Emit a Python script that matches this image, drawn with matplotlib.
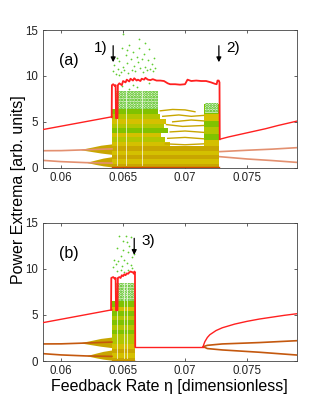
import matplotlib
matplotlib.use('Agg')
import matplotlib.pyplot as plt

plt.rcParams['font.family'] = ['Liberation Sans', 'DejaVu Sans']
plt.rcParams['hatch.linewidth'] = 1.3

# colours
RED = '#ff2020'
SALMON = '#e39070'
BROWN = '#c4580e'
OLIVE = '#c8a600'
YELLOW = '#d4c000'
YGREEN = '#b2c600'
GREEN = '#80c200'
stripe_cols = {'o': OLIVE, 'y': YELLOW, 'g': YGREEN, 'G': GREEN}

# axis ticks
xticks = [0.06, 0.065, 0.07, 0.075]
xticklabels = ['0.06', '0.065', '0.07', '0.075']
yticks = [0, 5, 10, 15]

# ---- branches common to both panels (left of the chaotic window)
left_red_x = [0.0585, 0.0641]
left_red_y = [4.15, 5.55]
left_up_x = [0.0585, 0.0600, 0.0620, 0.0641]
left_up_y = [1.85, 1.86, 1.95, 2.05]
left_lo_x = [0.0585, 0.0600, 0.0620, 0.0641]
left_lo_y = [0.80, 0.66, 0.55, 0.50]
# period doubling wedges
wedge1_x = [0.0616, 0.0625, 0.0632, 0.0641]
wedge1_lo = [1.95, 1.75, 1.60, 1.45]
wedge1_hi = [2.00, 2.25, 2.45, 2.60]
wedge2_x = [0.0621, 0.0628, 0.0634, 0.0641]
wedge2_lo = [0.55, 0.35, 0.20, 0.08]
wedge2_hi = [0.60, 0.85, 1.05, 1.20]

# ---- panel (a)
a_top_x = [0.06408, 0.06410, 0.0642, 0.06435, 0.06440, 0.06443, 0.06455, 0.06458,
           0.0647, 0.0649, 0.0650, 0.0652, 0.0653, 0.0655, 0.0656, 0.0658, 0.0659,
           0.0661, 0.0662, 0.0664, 0.0665, 0.0667, 0.0668, 0.0670, 0.0672, 0.0674,
           0.0677, 0.0680, 0.0683, 0.0686, 0.0688, 0.0692, 0.0696, 0.0700, 0.0702,
           0.0705, 0.0709, 0.0713, 0.0717, 0.0721, 0.0724, 0.07255, 0.07262,
           0.07272, 0.07278, 0.07280]
a_top_y = [5.5, 9.0, 9.1, 8.9, 9.0, 5.4, 5.4, 9.0,
           9.2, 9.0, 9.45, 9.3, 9.6, 9.4, 9.7, 9.5, 9.75,
           9.5, 9.6, 9.45, 9.7, 9.6, 9.8, 9.6, 9.55, 9.65,
           9.5, 9.5, 9.45, 9.2, 9.1, 9.1, 9.05, 9.1, 9.6,
           9.45, 9.5, 9.45, 9.45, 9.3, 9.15, 9.1, 9.5,
           9.5, 9.3, 3.1]
a_right_x = [0.07280, 0.0735, 0.0745, 0.0755, 0.0765, 0.0775, 0.0790]
a_right_y = [3.10, 3.35, 3.65, 3.95, 4.25, 4.60, 5.07]
a_rup_x = [0.07280, 0.0750, 0.0770, 0.0790]
a_rup_y = [1.75, 1.90, 2.02, 2.18]
a_rlo_x = [0.07280, 0.0750, 0.0770, 0.0790]
a_rlo_y = [1.20, 0.95, 0.78, 0.58]

a_chaos = [0.0641, 0.07275]
a_bot_lo = [0.0, 0.35, 0.90, 1.35, 1.85]
a_bot_hi = [0.35, 0.90, 1.35, 1.85, 2.35]
a_bot_c = ['o', 'y', 'o', 'y', 'o']
a_left_lo = [2.35, 2.80, 3.30, 3.80, 4.30, 4.80, 5.30, 5.80]
a_left_hi = [2.80, 3.30, 3.80, 4.30, 4.80, 5.30, 5.80, 6.45]
a_left_end = [0.0688, 0.0684, 0.0681, 0.0686, 0.0683, 0.0685, 0.0680, 0.0678]
a_left_c = ['y', 'g', 'y', 'G', 'g', 'y', 'g', 'G']
a_rcol = [0.0715, 0.07272]
a_rcol_lo = [2.35, 3.00, 3.70, 4.40, 5.10, 5.80]
a_rcol_hi = [3.00, 3.70, 4.40, 5.10, 5.80, 6.90]
a_rcol_c = ['y', 'G', 'g', 'G', 'y', 'G']
a_mid_lines = [
    ([0.0680, 0.0690, 0.0700, 0.0708], [6.20, 6.35, 6.30, 6.10]),
    ([0.0682, 0.0695, 0.0705, 0.0715], [5.60, 5.75, 5.60, 5.70]),
    ([0.0690, 0.0705, 0.0715], [5.00, 5.20, 5.10]),
    ([0.0685, 0.0698, 0.0715], [4.70, 4.50, 4.60]),
    ([0.0688, 0.0700, 0.0715], [3.90, 4.00, 3.85]),
    ([0.0686, 0.0700, 0.0715], [3.20, 3.30, 3.15]),
    ([0.0684, 0.0700, 0.0715], [2.60, 2.50, 2.60]),
]
a_gaps = [0.06448, 0.06525, 0.0665]
a_dense = [(0.0644, 0.0678, 6.45, 8.4), (0.0716, 0.07265, 6.0, 7.0)]
a_dots_x = [0.0642, 0.0643, 0.0644, 0.0645, 0.0646, 0.0647, 0.0648, 0.0649, 0.0650,
            0.0650, 0.0651, 0.0652, 0.0653, 0.0654, 0.0655, 0.0656, 0.0657, 0.0658,
            0.0659, 0.0660, 0.0661, 0.0662, 0.0663, 0.0664, 0.0665, 0.0666, 0.0667,
            0.0668, 0.0669, 0.0670, 0.0671, 0.0672, 0.0673, 0.0674, 0.0675, 0.0676,
            0.0663, 0.0653, 0.0647, 0.0668, 0.0658, 0.0661, 0.0671, 0.0655, 0.0649]
a_dots_y = [10.5, 11.2, 10.2, 12.0, 10.8, 11.6, 10.4, 13.1, 11.0,
            14.6, 10.6, 12.3, 11.4, 10.3, 13.4, 11.9, 10.7, 12.6,
            11.1, 10.5, 12.1, 11.5, 13.0, 10.9, 11.8, 10.4, 12.4,
            11.0, 10.6, 11.7, 12.9, 10.8, 11.3, 10.5, 12.0, 10.9,
            14.0, 12.8, 10.1, 13.6, 9.0, 8.8, 9.2, 8.6, 8.9]

# ---- panel (b)
b_top_x = [0.06403, 0.06405, 0.0642, 0.06435, 0.06440, 0.06443, 0.06455, 0.06458,
           0.0647, 0.0648, 0.0649, 0.0650, 0.0651, 0.0652, 0.0653, 0.0654, 0.0655,
           0.0656, 0.0657, 0.0658, 0.06588, 0.06592, 0.06596, 0.06598]
b_top_y = [5.55, 9.0, 9.1, 8.9, 9.0, 5.5, 5.5, 9.0,
           9.1, 9.0, 9.3, 9.2, 9.4, 9.3, 9.5, 9.45, 9.6,
           9.7, 9.65, 9.6, 9.45, 9.7, 9.6, 1.55]
b_flat_x = [0.06598, 0.07147]
b_flat_y = [1.55, 1.55]
b_right_x = [0.07147, 0.0715, 0.0716, 0.0718, 0.0720, 0.0725, 0.0730, 0.0740,
             0.0750, 0.0760, 0.0770, 0.0780, 0.0790]
b_right_y = [1.55, 1.75, 2.10, 2.55, 2.85, 3.30, 3.60, 4.00,
             4.30, 4.55, 4.75, 4.95, 5.12]
b_rup_x = [0.07147, 0.0718, 0.0730, 0.0760, 0.0790]
b_rup_y = [1.55, 1.70, 1.85, 2.00, 2.20]
b_rlo_x = [0.07147, 0.0718, 0.0730, 0.0760, 0.0790]
b_rlo_y = [1.55, 1.35, 1.20, 0.95, 0.65]

b_chaos = [0.0641, 0.06595]
b_bot_lo = [0.0, 0.35, 0.90, 1.35, 1.85]
b_bot_hi = [0.35, 0.90, 1.35, 1.85, 2.40]
b_bot_c = ['o', 'y', 'o', 'y', 'g']
b_left_lo = [2.40, 2.90, 3.40, 3.90, 4.40, 4.90, 5.40, 5.90]
b_left_hi = [2.90, 3.40, 3.90, 4.40, 4.90, 5.40, 5.90, 6.50]
b_left_end = [0.06595] * 8
b_left_c = ['g', 'G', 'g', 'G', 'g', 'G', 'y', 'G']
b_gaps = [0.06448, 0.0651, 0.0653]
b_dense = [(0.0644, 0.06595, 6.5, 8.5)]
b_dots_x = [0.0642, 0.0643, 0.0644, 0.0645, 0.0646, 0.0647, 0.0648, 0.0649, 0.0650,
            0.0651, 0.0652, 0.0653, 0.0654, 0.0655, 0.0656, 0.0657, 0.0658, 0.0659,
            0.0645, 0.0648, 0.0651, 0.0654, 0.0657, 0.0650, 0.0653, 0.0656]
b_dots_y = [10.2, 11.0, 10.5, 12.3, 10.8, 13.6, 11.4, 10.3, 12.0,
            11.0, 13.5, 10.6, 11.8, 12.5, 10.4, 11.3, 12.1, 11.6,
            9.8, 9.9, 9.7, 9.9, 10.1, 13.0, 12.9, 13.4]


def draw_panel(ax, d):
    # period doubling wedges and chaotic bands
    ax.fill_between(wedge1_x, wedge1_lo, wedge1_hi, color=OLIVE, lw=0, zorder=2)
    ax.fill_between(wedge2_x, wedge2_lo, wedge2_hi, color=OLIVE, lw=0, zorder=2)
    x0, x1 = d['chaos']
    for lo, hi, c in zip(d['bot_lo'], d['bot_hi'], d['bot_c']):
        ax.fill_between([x0, x1], [lo, lo], [hi, hi], color=stripe_cols[c], lw=0, zorder=2)
    for lo, hi, e, c in zip(d['left_lo'], d['left_hi'], d['left_end'], d['left_c']):
        ax.fill_between([x0, e], [lo, lo], [hi, hi], color=stripe_cols[c], lw=0, zorder=2)
    if 'rcol' in d:
        r0, r1 = d['rcol']
        for lo, hi, c in zip(d['rcol_lo'], d['rcol_hi'], d['rcol_c']):
            ax.fill_between([r0, r1], [lo, lo], [hi, hi], color=stripe_cols[c], lw=0, zorder=2)
        for lx, ly in d['mid']:
            ax.plot(lx, ly, color=OLIVE, lw=1.0, zorder=2)
    for xa, xb, ya, yb in d['dense']:
        ax.fill_between([xa, xb], [ya, ya], [yb, yb], facecolor='#e4f4d4', edgecolor='#3cb800',
                        hatch='......', lw=0, zorder=2)
    for g in d['gaps']:
        ax.plot([g, g], [0.3, 8.8], color='white', lw=0.6, alpha=0.8, zorder=3)
    ax.plot([x0, x1], [0.04, 0.04], color='#d04a00', lw=1.0, zorder=3)
    ax.scatter(d['dots_x'], d['dots_y'], s=1.6, color='#60cc30', lw=0, zorder=3)

    # periodic branches
    ax.plot(left_up_x, left_up_y, color=d['orange'], lw=1.2, zorder=2)
    ax.plot(left_lo_x, left_lo_y, color=d['orange'], lw=1.2, zorder=2)
    ax.plot(d['rup_x'], d['rup_y'], color=d['orange'], lw=1.2, zorder=2)
    ax.plot(d['rlo_x'], d['rlo_y'], color=d['orange'], lw=1.2, zorder=2)
    ax.plot(left_red_x, left_red_y, color=RED, lw=1.0, zorder=4)
    ax.plot(d['top_x'], d['top_y'], color=RED, lw=1.3, zorder=4)
    if 'flat_x' in d:
        ax.plot(d['flat_x'], d['flat_y'], color=RED, lw=1.0, zorder=4)
    ax.plot(d['right_x'], d['right_y'], color=RED, lw=1.0, zorder=4)

    ax.set_xlim(0.0585, 0.079)
    ax.set_ylim(0, 15)
    ax.set_xticks(xticks)
    ax.set_xticklabels(xticklabels)
    ax.set_yticks(yticks)
    ax.tick_params(direction='in', top=True, right=True, length=2.5, width=0.5,
                   labelsize=8.3, pad=3, colors='#222222')
    for s in ax.spines.values():
        s.set_linewidth(0.6)
        s.set_color('#444444')
    ax.text(0.0606, 11.7, d['label'], fontsize=11.5, ha='center', va='center')
    for ax_x, tx, txt, ha in d['arrows']:
        ax.annotate('', xy=(ax_x, 11.5), xytext=(ax_x, 13.3),
                    arrowprops=dict(arrowstyle='-|>', color='k', lw=0.9, mutation_scale=7,
                                    shrinkA=0, shrinkB=0), zorder=5)
        ax.text(tx, 13.0, txt, fontsize=11, ha=ha, va='center')


fig = plt.figure(figsize=(3.27, 4.07), dpi=100)
ax1 = fig.add_axes([0.130, 0.588, 0.777, 0.338])
ax2 = fig.add_axes([0.130, 0.113, 0.777, 0.340])

draw_panel(ax1, dict(chaos=a_chaos, bot_lo=a_bot_lo, bot_hi=a_bot_hi, bot_c=a_bot_c,
                     left_lo=a_left_lo, left_hi=a_left_hi, left_end=a_left_end, left_c=a_left_c,
                     rcol=a_rcol, rcol_lo=a_rcol_lo, rcol_hi=a_rcol_hi, rcol_c=a_rcol_c,
                     mid=a_mid_lines, dense=a_dense, gaps=a_gaps,
                     dots_x=a_dots_x, dots_y=a_dots_y, orange=SALMON,
                     rup_x=a_rup_x, rup_y=a_rup_y, rlo_x=a_rlo_x, rlo_y=a_rlo_y,
                     top_x=a_top_x, top_y=a_top_y, right_x=a_right_x, right_y=a_right_y,
                     label='(a)',
                     arrows=[(0.0642, 0.06375, '1)', 'right'), (0.07273, 0.0733, '2)', 'left')]))
draw_panel(ax2, dict(chaos=b_chaos, bot_lo=b_bot_lo, bot_hi=b_bot_hi, bot_c=b_bot_c,
                     left_lo=b_left_lo, left_hi=b_left_hi, left_end=b_left_end, left_c=b_left_c,
                     dense=b_dense, gaps=b_gaps,
                     dots_x=b_dots_x, dots_y=b_dots_y, orange=BROWN,
                     rup_x=b_rup_x, rup_y=b_rup_y, rlo_x=b_rlo_x, rlo_y=b_rlo_y,
                     top_x=b_top_x, top_y=b_top_y, flat_x=b_flat_x, flat_y=b_flat_y,
                     right_x=b_right_x, right_y=b_right_y, label='(b)',
                     arrows=[(0.0659, 0.0665, '3)', 'left')]))

ax2.set_xlabel('Feedback Rate η [dimensionless]', fontsize=11.5, labelpad=1)
fig.text(0.056, 0.533, 'Power Extrema [arb. units]', rotation=90, fontsize=11.5,
         ha='center', va='center')

fig.savefig('out.png', dpi=100)
